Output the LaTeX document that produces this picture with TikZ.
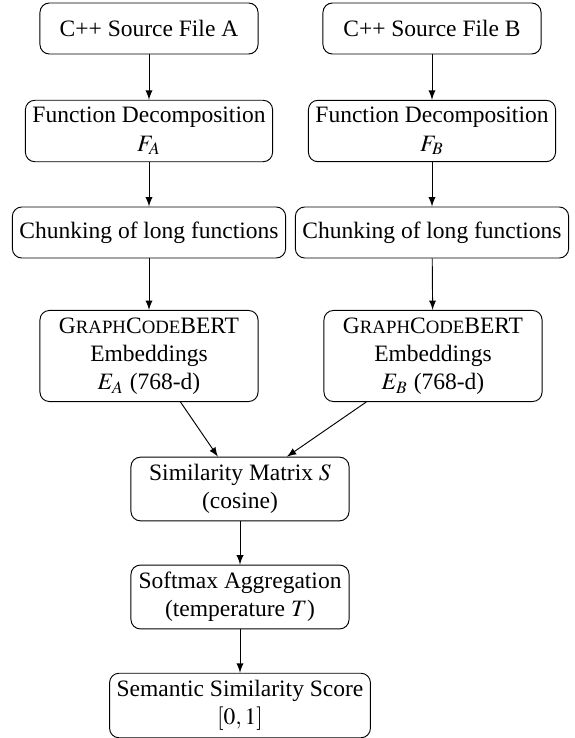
\documentclass[tikz,border=0pt]{standalone}
\usepackage{mathptmx}
\usepackage[no-math]{fontspec}
\setmainfont{Liberation Serif}

\newcommand{\gcbert}{G{\footnotesize RAPH}C{\footnotesize ODE}BERT}

\tikzset{
stage/.style={draw, rounded corners, align=center, inner sep=3pt, minimum height=21.7pt, minimum width=92.8pt},
flow/.style={->, >=latex}
}

\begin{document}
\begin{tikzpicture}[x=0.4255pt,y=-0.4255pt]
\useasboundingbox (0,0) rectangle (575,738);

\node[stage] (srcA) at (149,28.5) {C++ Source File A};
\node[stage] (srcB) at (432,28.5) {C++ Source File B};

\node[stage] (decA) at (149,131) {Function Decomposition\\$F_A$};
\node[stage] (decB) at (432,131) {Function Decomposition\\$F_B$};

\node[stage] (chunkA) at (149,232.5) {Chunking of long functions};
\node[stage] (chunkB) at (432,232.5) {Chunking of long functions};

\node[stage] (embA) at (149,356) {\gcbert\\Embeddings\\$E_A$ (768-d)};
\node[stage] (embB) at (433,356) {\gcbert\\Embeddings\\$E_B$ (768-d)};

\node[stage] (sim) at (240,489) {Similarity Matrix $S$\\(cosine)};
\node[stage] (soft) at (240,597) {Softmax Aggregation\\(temperature $T$)};
\node[stage] (score) at (240,705.5) {Semantic Similarity Score\\$[0,1]$};

\foreach \a/\b in {srcA/decA,decA/chunkA,chunkA/embA,srcB/decB,decB/chunkB,chunkB/embB,embA/sim,embB/sim,sim/soft,soft/score}
{
\draw[flow] (\a)--(\b);
}
\end{tikzpicture}
\end{document}
